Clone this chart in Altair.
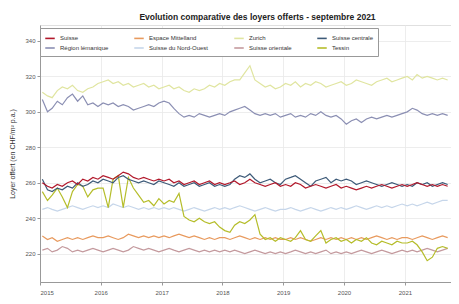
import altair as alt
import pandas as pd

series_names = ["Suisse", "Région lémanique", "Espace Mittelland", "Suisse du Nord-Ouest",
                "Zurich", "Suisse orientale", "Suisse centrale", "Tessin"]
series_colors = ["#b2182b", "#8b8fb3", "#e89a5e", "#c6d6ea",
                 "#e0e5a0", "#c49a9e", "#3d5a78", "#b5bd2a"]

zurich = [311, 309, 308, 312, 314, 313, 315, 312, 311, 313, 314, 316,
          317, 318, 316, 317, 315, 316, 314, 315, 316, 314, 315, 313,
          314, 315, 313, 314, 312, 311, 313, 312, 313, 315, 314, 316,
          315, 317, 318, 318, 322, 326, 318, 316, 314, 315, 313, 314,
          316, 315, 317, 314, 316, 315, 317, 316, 314, 315, 316, 317,
          315, 316, 318, 317, 316, 315, 317, 318, 319, 317, 318, 319,
          320, 318, 321, 319, 320, 319, 318, 319, 318]
lemanique = [307, 300, 302, 306, 304, 308, 310, 306, 309, 304, 305, 303,
             305, 304, 305, 303, 304, 303, 301, 302, 303, 304, 303, 305,
             306, 305, 302, 299, 297, 298, 297, 299, 298, 297, 298, 299,
             298, 300, 301, 302, 303, 301, 299, 298, 299, 298, 299, 297,
             298, 299, 297, 298, 297, 299, 298, 300, 298, 297, 298, 296,
             293, 295, 296, 294, 296, 297, 296, 297, 298, 297, 298, 299,
             300, 302, 301, 299, 298, 299, 298, 299, 298]
suisse = [260, 258, 257, 259, 258, 260, 261, 259, 262, 261, 263, 262,
          264, 263, 262, 264, 266, 265, 263, 262, 263, 262, 261, 262,
          261, 262, 260, 261, 259, 260, 261, 259, 260, 261, 259, 260,
          259, 260, 261, 259, 260, 262, 260, 259, 258, 259, 260, 258,
          259, 258, 260, 259, 257, 258, 259, 258, 257, 258, 259, 257,
          258, 257, 256, 257, 258, 257, 258, 259, 258, 257, 258, 259,
          258, 259, 260, 259, 258, 259, 258, 259, 258]
centrale = [262, 256, 255, 257, 256, 258, 257, 260, 258, 259, 261, 260,
            262, 261, 260, 263, 264, 262, 261, 260, 261, 260, 259, 261,
            260, 259, 258, 260, 258, 259, 260, 258, 259, 260, 258, 259,
            258, 259, 262, 264, 263, 265, 262, 260, 261, 262, 260, 259,
            262, 263, 264, 262, 260, 258, 261, 262, 263, 260, 262, 261,
            262, 261, 259, 260, 261, 260, 259, 258, 259, 260, 259, 258,
            259, 258, 260, 259, 260, 258, 259, 260, 259]
tessin = [255, 250, 253, 257, 252, 246, 255, 259, 258, 252, 256, 257,
          257, 246, 262, 264, 246, 263, 257, 253, 249, 250, 247, 251,
          248, 250, 249, 254, 241, 239, 238, 240, 238, 237, 238, 235,
          233, 232, 236, 238, 237, 239, 242, 231, 228, 229, 227, 229,
          228, 227, 229, 233, 228, 227, 230, 233, 226, 228, 229, 227,
          228, 226, 228, 227, 229, 226, 225, 227, 226, 225, 227, 226,
          226, 227, 225, 221, 216, 218, 223, 224, 223]
nord_ouest = [245, 246, 245, 244, 245, 246, 247, 246, 245, 246, 247, 246,
              247, 246, 248, 247, 246, 247, 246, 245, 246, 245, 246, 245,
              246, 245, 246, 245, 244, 245, 246, 245, 244, 245, 246, 245,
              246, 245, 246, 247, 246, 245, 244, 245, 246, 245, 244, 245,
              245, 246, 245, 244, 245, 246, 245, 244, 245, 246, 245, 246,
              245, 246, 247, 246, 245, 246, 247, 246, 247, 246, 247, 248,
              247, 248, 247, 248, 249, 248, 249, 250, 250]
mittelland = [230, 228, 229, 227, 228, 229, 228, 229, 228, 229, 230, 229,
              229, 230, 229, 228, 229, 231, 230, 229, 230, 229, 230, 229,
              230, 229, 230, 231, 230, 229, 230, 229, 228, 229, 228, 229,
              229, 228, 229, 230, 229, 228, 229, 228, 229, 228, 229, 228,
              228, 229, 228, 229, 228, 227, 228, 229, 228, 229, 228, 229,
              228, 229, 228, 229, 228, 229, 230, 229, 228, 229, 228, 229,
              229, 228, 229, 230, 229, 228, 229, 230, 229]
orientale = [222, 223, 221, 222, 224, 223, 221, 222, 221, 222, 223, 222,
             221, 222, 223, 222, 221, 222, 224, 223, 222, 223, 222, 221,
             222, 223, 222, 221, 222, 223, 222, 221, 222, 221, 222, 221,
             222, 221, 222, 221, 220, 221, 222, 221, 220, 221, 220, 221,
             220, 221, 222, 221, 220, 221, 220, 221, 222, 220, 221, 220,
             221, 220, 221, 222, 221, 220, 221, 222, 221, 220, 221, 222,
             221, 222, 221, 222, 223, 222, 221, 222, 223]

dates = pd.date_range("2015-01-01", periods=81, freq="MS") + pd.Timedelta(days=14)

# drawing order (bottom to top)
draw = [("Zurich", zurich), ("Région lémanique", lemanique),
        ("Suisse du Nord-Ouest", nord_ouest), ("Espace Mittelland", mittelland),
        ("Suisse orientale", orientale), ("Tessin", tessin),
        ("Suisse centrale", centrale), ("Suisse", suisse)]
rows = []
for i, (name, vals) in enumerate(draw):
    for d, v in zip(dates, vals):
        rows.append({"date": d, "region": name, "value": v, "ord": i})
df = pd.DataFrame(rows)

chart = alt.Chart(df).mark_line(strokeWidth=1.2).encode(
    x=alt.X("date:T",
            scale=alt.Scale(domain=["2015-01-01", "2021-10-05"], nice=False),
            axis=alt.Axis(title=None, format="%Y", tickCount={"interval": "year", "step": 1},
                          labelFontSize=6, labelPadding=4)),
    y=alt.Y("value:Q",
            scale=alt.Scale(domain=[204, 349], nice=False, zero=False),
            axis=alt.Axis(title="Loyer offert (en CHF/m² p.a.)", values=[220, 240, 260, 280, 300, 320, 340],
                          labelFontSize=6, titleFontSize=7, titleFontWeight="normal",
                          titleColor="#333", titlePadding=9)),
    color=alt.Color("region:N",
                    scale=alt.Scale(domain=series_names, range=series_colors),
                    legend=alt.Legend(title=None, orient="none", legendX=0, legendY=3,
                                      columns=4, symbolType="stroke", symbolStrokeWidth=1.6,
                                      symbolSize=90, labelFontSize=6, labelColor="#333",
                                      rowPadding=0, columnPadding=22, padding=4,
                                      fillColor="white", strokeColor="#999",
                                      labelOffset=4, labelLimit=120)),
    order=alt.Order("ord:Q"),
).properties(
    width=411, height=257,
    padding={"left": 32, "top": 17, "right": 0, "bottom": 14},
    autosize=alt.AutoSizeParams(type="none"),
    title=alt.TitleParams("Evolution comparative des loyers offerts - septembre 2021",
                          fontSize=8.5, fontWeight="bold", color="#222",
                          anchor="middle", dx=12, offset=4),
).configure(font="Liberation Sans").configure_axis(
    labelColor="#555", tickColor="#999", tickSize=3, domainColor="#999",
    gridColor="#e8e8e8", gridWidth=0.8
).configure_view(stroke="#e0e0e0")

chart.save("out.html", embed_options={"renderer": "svg", "actions": False})
